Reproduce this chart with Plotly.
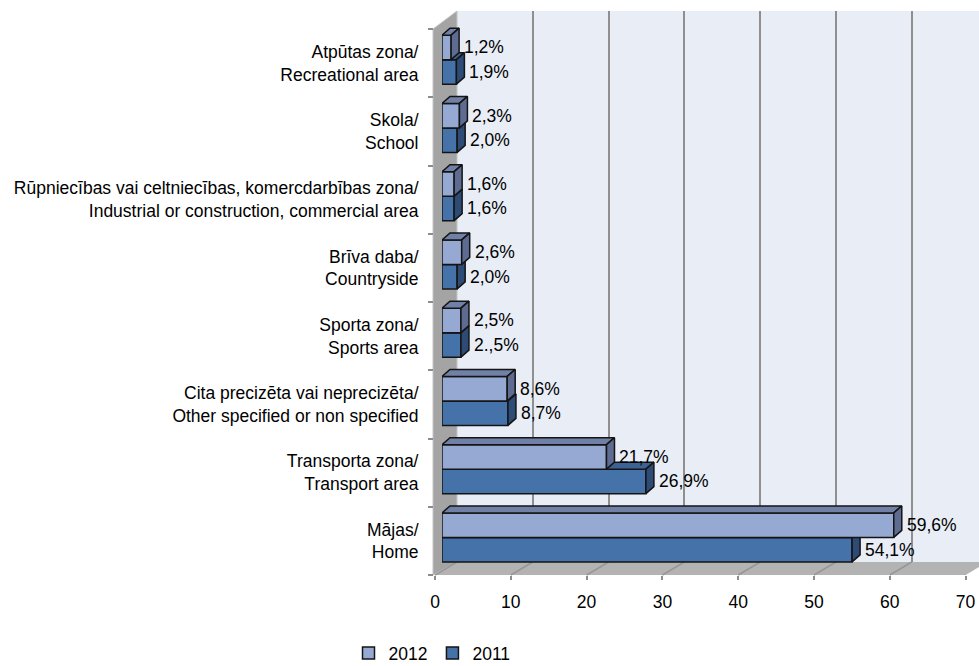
import plotly.graph_objects as go

# ---- data -------------------------------------------------------------
categories = [
    "Atpūtas zona/<br>Recreational area",
    "Skola/<br>School",
    "Rūpniecības vai celtniecības, komercdarbības zona/<br>Industrial or construction, commercial area",
    "Brīva daba/<br>Countryside",
    "Sporta zona/<br>Sports area",
    "Cita precizēta vai neprecizēta/<br>Other specified or non specified",
    "Transporta zona/<br>Transport area",
    "Mājas/<br>Home",
]
values_2012 = [1.2, 2.3, 1.6, 2.6, 2.5, 8.6, 21.7, 59.6]
values_2011 = [1.9, 2.0, 1.6, 2.0, 2.5, 8.7, 26.9, 54.1]
labels_2012 = ["1,2%", "2,3%", "1,6%", "2,6%", "2,5%", "8,6%", "21,7%", "59,6%"]
labels_2011 = ["1,9%", "2,0%", "1,6%", "2,0%", "2.,5%", "8,7%", "26,9%", "54,1%"]
x_ticks = [0, 10, 20, 30, 40, 50, 60, 70]
series_names = ["2012", "2011"]

# ---- geometry of the pseudo-3D box (pixels) ---------------------------
W, H = 979, 666
PX = 7.58                      # pixels per value unit
X_MAX = 70
FRONT_X0 = 435                 # front edge, value 0
FRONT_TOP, FRONT_BOTTOM = 29, 575
BACK_X0 = 457                  # back wall, value 0
BACK_TOP, BACK_BOTTOM = 11, 562
BAR_X0 = 442                   # front plane of the bars, value 0
BAR_LIFT = 3.5                 # bars sit slightly higher than the front edge
DEPTH_DX, DEPTH_DY = 8, 7      # bar depth in pixels
N = len(categories)
SLOT = (FRONT_BOTTOM - FRONT_TOP) / N
BAR_W = 24.5 / SLOT            # thickness of one bar, in category units

FONT = "Liberation Sans, Arial, sans-serif"
FSIZE = 17.5
C2012, C2012_TOP, C2012_SIDE = "#95A9D2", "#7080A6", "#5D6C90"
C2011, C2011_TOP, C2011_SIDE = "#4573A9", "#3C6195", "#2D4B74"
EDGE = "#141414"
EDGE_W = 1.5


def fx(p):
    return p / W


def fy(p):
    return 1 - p / H


positions = [N - 1 - j for j in range(N)]   # bar-plane index, Home at bottom
dxu = DEPTH_DX / PX
dyu = DEPTH_DY / SLOT


def faces(values, lower, upper):
    """Top and right-side faces of each bar as closed polygons."""
    tx, ty, sx, sy = [], [], [], []
    for v, p in zip(values, positions):
        y0, y1 = p + lower, p + upper
        tx += [0, v, v + dxu, dxu, 0, None]
        ty += [y1, y1, y1 + dyu, y1 + dyu, y1, None]
        sx += [v, v + dxu, v + dxu, v, v, None]
        sy += [y0, y0 + dyu, y1 + dyu, y1, y0, None]
    return tx, ty, sx, sy


fig = go.Figure()

# back wall subplot (grid only)
fig.add_trace(go.Scatter(x=[], y=[], xaxis="x", yaxis="y", showlegend=False, hoverinfo="skip"))

# 2011 bars (drawn first, sit below the 2012 bars)
tx, ty, sx, sy = faces(values_2011, -BAR_W, 0)
fig.add_trace(go.Bar(
    name=series_names[1], y=positions, x=values_2011, orientation="h",
    xaxis="x2", yaxis="y2", width=BAR_W, offset=-BAR_W, legendrank=2,
    marker=dict(color=C2011, line=dict(color=EDGE, width=EDGE_W)), hoverinfo="x",
))
fig.add_trace(go.Scatter(x=tx, y=ty, xaxis="x2", yaxis="y2", mode="lines", fill="toself",
                         fillcolor=C2011_TOP, line=dict(color=EDGE, width=EDGE_W),
                         showlegend=False, hoverinfo="skip"))
fig.add_trace(go.Scatter(x=sx, y=sy, xaxis="x2", yaxis="y2", mode="lines", fill="toself",
                         fillcolor=C2011_SIDE, line=dict(color=EDGE, width=EDGE_W),
                         showlegend=False, hoverinfo="skip"))

# front axes subplot
fig.add_trace(go.Scatter(x=[], y=[], xaxis="x3", yaxis="y3", showlegend=False, hoverinfo="skip"))

# 2012 bars
tx, ty, sx, sy = faces(values_2012, 0, BAR_W)
fig.add_trace(go.Bar(
    name=series_names[0], y=positions, x=values_2012, orientation="h",
    xaxis="x4", yaxis="y4", width=BAR_W, offset=0, legendrank=1,
    marker=dict(color=C2012, line=dict(color=EDGE, width=EDGE_W)), hoverinfo="x",
))
fig.add_trace(go.Scatter(x=tx, y=ty, xaxis="x4", yaxis="y4", mode="lines", fill="toself",
                         fillcolor=C2012_TOP, line=dict(color=EDGE, width=EDGE_W),
                         showlegend=False, hoverinfo="skip"))
fig.add_trace(go.Scatter(x=sx, y=sy, xaxis="x4", yaxis="y4", mode="lines", fill="toself",
                         fillcolor=C2012_SIDE, line=dict(color=EDGE, width=EDGE_W),
                         showlegend=False, hoverinfo="skip"))

# value labels beside each bar
annotations = []
for vals, labs, lower, ax in ((values_2012, labels_2012, 0, "4"), (values_2011, labels_2011, -BAR_W, "2")):
    for v, t, p in zip(vals, labs, positions):
        annotations.append(dict(
            x=v, y=p + lower + BAR_W / 2, xref="x" + ax, yref="y" + ax, text=t,
            showarrow=False, xanchor="left", yanchor="middle", xshift=DEPTH_DX + 3,
            font=dict(family=FONT, size=FSIZE, color="#000000"),
        ))

# walls and floor
shapes = [
    dict(type="rect", xref="paper", yref="paper", layer="below",
         x0=fx(BACK_X0), x1=1, y0=fy(BACK_BOTTOM), y1=fy(BACK_TOP),
         fillcolor="#E9EDF6", line=dict(width=0)),
    dict(type="path", xref="paper", yref="paper", layer="below",
         path=(f"M {fx(FRONT_X0 - 2)},{fy(FRONT_TOP)} L {fx(BACK_X0)},{fy(BACK_TOP)} "
               f"L {fx(BACK_X0)},{fy(BACK_BOTTOM)} L {fx(FRONT_X0 - 2)},{fy(FRONT_BOTTOM)} Z"),
         fillcolor="#A4A4A4", line=dict(color="#C4C4C4", width=1)),
    dict(type="path", xref="paper", yref="paper", layer="below",
         path=(f"M {fx(FRONT_X0 - 2)},{fy(FRONT_BOTTOM)} L {fx(FRONT_X0 + X_MAX * PX)},{fy(FRONT_BOTTOM)} "
               f"L {fx(BACK_X0 + X_MAX * PX)},{fy(BACK_BOTTOM)} L {fx(BACK_X0)},{fy(BACK_BOTTOM)} Z"),
         fillcolor="#B3B3B3", line=dict(width=0)),
]
for k in x_ticks:
    shapes.append(dict(type="line", xref="x3", xsizemode="pixel", xanchor=k,
                       x0=0, x1=BACK_X0 - FRONT_X0, yref="paper",
                       y0=fy(FRONT_BOTTOM), y1=fy(BACK_BOTTOM), layer="below",
                       line=dict(color="#979797", width=1.5)))

tickfont = dict(family=FONT, size=FSIZE, color="#000000")
fig.update_layout(
    width=W, height=H,
    margin=dict(l=0, r=0, t=0, b=0, autoexpand=False),
    paper_bgcolor="#FFFFFF", plot_bgcolor="rgba(0,0,0,0)",
    barmode="overlay",
    font=dict(family=FONT, size=FSIZE, color="#000000"),
    shapes=shapes, annotations=annotations,
    # back wall grid
    xaxis=dict(domain=[fx(BACK_X0), 1], range=[0, (W - BACK_X0) / PX], anchor="y",
               tickvals=x_ticks, showgrid=True, gridcolor="#8F8F8F", gridwidth=2,
               showticklabels=False, ticks="", zeroline=False, showline=False,
               automargin=False),
    yaxis=dict(domain=[fy(BACK_BOTTOM), fy(BACK_TOP)], range=[0, 1], anchor="x",
               visible=False, automargin=False),
    # bar planes
    xaxis2=dict(domain=[fx(BAR_X0), 1], range=[0, (W - BAR_X0) / PX], anchor="y2",
                visible=False, automargin=False),
    yaxis2=dict(domain=[fy(FRONT_BOTTOM - BAR_LIFT), fy(FRONT_TOP - BAR_LIFT)],
                range=[-0.5, N - 0.5], anchor="x2", visible=False, automargin=False),
    xaxis4=dict(domain=[fx(BAR_X0), 1], range=[0, (W - BAR_X0) / PX], anchor="y4",
                visible=False, automargin=False),
    yaxis4=dict(domain=[fy(FRONT_BOTTOM - BAR_LIFT), fy(FRONT_TOP - BAR_LIFT)],
                range=[-0.5, N - 0.5], anchor="x4", visible=False, automargin=False),
    # front value axis and category axis
    xaxis3=dict(domain=[fx(FRONT_X0), fx(FRONT_X0 + X_MAX * PX)], range=[0, X_MAX], anchor="y3",
                tickvals=x_ticks, ticks="outside", ticklen=4, tickwidth=1.5, tickcolor="#8C8C8C",
                showgrid=False, zeroline=False, showline=False, tickfont=tickfont,
                ticklabelstandoff=7, automargin=False),
    yaxis3=dict(domain=[fy(FRONT_BOTTOM), fy(FRONT_TOP)], range=[0, N], anchor="free",
                position=fx(FRONT_X0 - 2),
                tickvals=[p + 0.5 for p in positions], ticktext=categories,
                ticks="outside", ticklen=5, tickcolor="rgba(0,0,0,0)",
                minor=dict(tickvals=list(range(N + 1)), ticks="outside", ticklen=5,
                           tickwidth=1.5, tickcolor="#8C8C8C"),
                showgrid=False, zeroline=False, showline=False, tickfont=tickfont,
                ticklabelstandoff=6, automargin=False),
    legend=dict(orientation="h", x=fx(432), xanchor="center", y=fy(653), yanchor="middle",
                font=dict(family=FONT, size=FSIZE, color="#000000"), bgcolor="rgba(0,0,0,0)",
                itemwidth=30, tracegroupgap=0),
)

fig.write_html("out.html", config={"displayModeBar": False})
